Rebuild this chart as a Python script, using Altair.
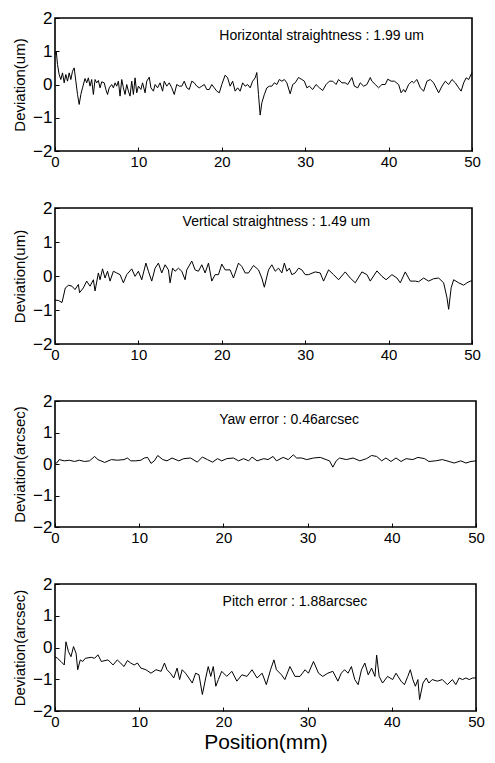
import altair as alt
import pandas as pd

# ---------------- data ----------------
h_x = [0, 0.15, 0.3, 0.5, 0.7, 0.9, 1.1, 1.3, 1.5, 1.7, 1.9, 2.1, 2.3, 2.5, 2.7, 2.9, 3.1, 3.3, 3.6, 3.8,
       4.0, 4.2, 4.4, 4.6, 4.8, 5.0, 5.2, 5.4, 5.6, 5.9, 6.1, 6.3, 6.5, 6.8, 7.0, 7.2, 7.4, 7.6, 7.8, 8.0,
       8.2, 8.4, 8.6, 8.8, 9.0, 9.2, 9.4, 9.6, 9.8, 10.0, 10.3, 10.5, 10.8, 11.0, 11.3, 11.5, 11.8, 12.0, 12.3, 12.6,
       12.9, 13.1, 13.4, 13.7, 14.0, 14.3, 14.6, 14.9, 15.2, 15.5, 15.8, 16.1, 16.4, 16.7, 17.0, 17.3, 17.6, 17.9, 18.2, 18.5,
       18.8, 19.1, 19.4, 19.7, 20.0, 20.4, 20.7, 21.0, 21.3, 21.6, 21.9, 22.2, 22.5, 22.8, 23.1, 23.4, 23.7, 24.0, 24.2, 24.4,
       24.6, 24.8, 25.1, 25.4, 25.7, 26.0, 26.3, 26.6, 26.9, 27.2, 27.5, 27.8, 28.2, 28.5, 28.8, 29.2, 29.6, 29.9, 30.2, 30.5,
       30.9, 31.3, 31.7, 32.1, 32.5, 32.9, 33.3, 33.7, 34.0, 34.4, 34.8, 35.1, 35.6, 35.9, 36.3, 36.6, 37.0, 37.4, 37.8, 38.0,
       38.4, 38.8, 39.2, 39.6, 39.9, 40.3, 40.7, 41.2, 41.5, 41.8, 42.0, 42.4, 42.8, 43.0, 43.4, 43.8, 44.2, 44.6, 45.0, 45.4,
       46.0, 46.4, 46.8, 47.2, 47.6, 48.0, 48.4, 48.7, 49.0, 49.3, 49.6, 50.0]
h_y = [0.9, 1.0, 0.6, 0.3, 0.15, 0.35, 0.05, 0.3, 0.1, 0.35, 0.15, 0.4, 0.5, 0.1, -0.3, -0.6, -0.3, -0.1, 0.18, 0.05,
       0.2, -0.05, 0.15, -0.3, 0.15, 0.05, 0.12, -0.1, 0.08, 0.05, -0.15, -0.3, -0.1, 0.0, -0.1, 0.05, -0.05, 0.1, -0.35, 0.15,
       -0.1, -0.3, 0.0, -0.2, -0.35, 0.1, -0.3, 0.2, -0.25, -0.05, -0.15, 0.05, -0.25, 0.1, 0.22, -0.1, -0.2, 0.0, -0.1, 0.05,
       -0.2, 0.1, -0.05, 0.05, -0.1, -0.3, 0.0, -0.05, -0.05, 0.1, -0.1, -0.15, 0.1, 0.05, -0.05, -0.1, -0.05, 0.0, -0.15, -0.15,
       0.0, -0.1, -0.2, -0.25, 0.0, 0.28, 0.2, -0.05, 0.1, -0.2, -0.1, -0.2, 0.05, -0.05, 0.0, -0.1, 0.1, 0.2, 0.36, -0.3,
       -0.92, -0.55, -0.3, -0.1, -0.05, -0.05, 0.05, 0.0, 0.15, 0.1, 0.15, 0.05, -0.28, 0.0, 0.05, 0.21, 0.15, 0.1, -0.1, -0.05,
       -0.15, 0.0, -0.1, -0.18, 0.0, 0.1, 0.1, 0.0, 0.15, 0.05, 0.05, 0.0, 0.21, -0.05, -0.1, 0.05, -0.05, 0.0, 0.21, 0.1,
       0.0, -0.1, 0.0, 0.0, 0.16, 0.1, 0.1, 0.0, -0.25, -0.15, -0.23, 0.0, 0.1, 0.05, 0.15, -0.1, -0.2, 0.1, 0.15, 0.05,
       -0.25, -0.05, 0.1, 0.0, 0.15, 0.05, -0.1, -0.2, 0.05, 0.2, 0.15, 0.36]

v_x = [0, 0.4, 0.84, 1.24, 1.64, 2.04, 2.4, 2.8, 2.95, 3.4, 3.8, 4.2, 4.6, 4.8, 5.2, 5.4, 5.7, 6.0, 6.3, 6.6,
       7.0, 7.4, 7.8, 8.2, 8.6, 9.2, 9.6, 10.0, 10.4, 10.9, 11.2, 11.6, 12.0, 12.4, 12.8, 13.2, 13.6, 13.8, 14.1, 14.4,
       14.8, 15.2, 15.6, 15.8, 16.4, 16.8, 17.2, 17.6, 18.0, 18.4, 18.8, 19.2, 19.6, 20.0, 20.4, 21.0, 21.4, 22.0, 22.4, 22.8,
       23.2, 23.8, 24.4, 24.8, 25.1, 25.6, 26.0, 26.4, 26.8, 27.2, 27.5, 27.8, 28.1, 28.4, 28.8, 29.2, 29.6, 30.0, 30.4, 31.2,
       31.8, 32.2, 32.8, 33.4, 34.0, 34.8, 35.4, 36.0, 36.8, 37.4, 37.8, 38.6, 39.2, 39.7, 40.4, 41.0, 41.4, 42.0, 42.6, 43.2,
       43.6, 44.2, 44.8, 45.4, 46.0, 46.6, 47.0, 47.2, 47.5, 47.8, 48.4, 49.0, 49.4, 49.8, 50.0]
v_y = [-0.71, -0.72, -0.78, -0.35, -0.27, -0.30, -0.40, -0.25, -0.49, -0.35, -0.15, -0.30, -0.11, -0.44, 0.09, -0.11, 0.21, -0.06, 0.14, -0.15,
       0.14, 0.09, 0.04, -0.20, 0.04, 0.21, -0.01, 0.14, -0.11, 0.38, 0.14, -0.15, 0.23, 0.38, 0.09, 0.33, 0.18, -0.20, 0.23, 0.14,
       0.23, 0.14, -0.11, 0.18, 0.44, 0.18, 0.14, 0.33, 0.09, 0.38, -0.15, 0.04, 0.04, 0.35, 0.18, 0.18, -0.06, 0.38, 0.28, 0.09,
       0.09, 0.31, 0.18, -0.06, -0.33, 0.18, 0.33, 0.14, 0.23, 0.09, 0.38, 0.14, 0.23, 0.04, 0.09, 0.23, 0.18, 0.04, 0.04, 0.12,
       0.09, -0.15, 0.18, 0.04, -0.11, 0.12, -0.06, -0.20, 0.12, 0.04, -0.15, 0.15, -0.01, -0.11, 0.04, -0.06, -0.20, 0.12, -0.15, -0.15,
       -0.17, -0.06, -0.15, -0.08, -0.06, -0.20, -0.64, -0.98, -0.35, -0.11, -0.20, -0.27, -0.20, -0.15, -0.15]

yaw_x = [0, 0.2, 0.5, 1.1, 1.7, 2.3, 2.9, 3.5, 4.1, 4.7, 5.1, 5.9, 6.7, 7.4, 8.2, 8.6, 9.0, 9.6, 10.2, 10.6,
         11.0, 11.4, 11.8, 12.2, 12.8, 13.3, 13.9, 14.7, 15.3, 16.1, 16.9, 17.5, 18.1, 18.7, 19.3, 19.8, 20.4, 21.2, 21.8, 22.4,
         23.0, 23.4, 24.0, 24.8, 25.3, 25.9, 26.3, 27.1, 27.7, 28.3, 28.7, 29.3, 29.9, 30.7, 31.5, 32.2, 32.6, 33.0, 33.4, 33.8,
         34.6, 35.4, 36.2, 37.0, 37.6, 38.2, 38.8, 39.3, 39.9, 40.5, 41.1, 41.7, 42.5, 43.1, 43.9, 44.4, 45.2, 46.0, 46.8, 47.4,
         48.2, 48.8, 49.4, 50.0]
yaw_y = [0.03, 0.03, 0.14, 0.10, 0.12, 0.08, 0.12, 0.08, 0.10, 0.24, 0.14, 0.05, 0.14, 0.12, 0.14, 0.19, 0.10, 0.10, 0.12, 0.19,
         0.21, 0.02, 0.10, 0.27, 0.14, 0.10, 0.19, 0.10, 0.17, 0.19, 0.06, 0.22, 0.14, 0.06, 0.17, 0.10, 0.17, 0.19, 0.10, 0.17,
         0.10, 0.22, 0.10, 0.17, 0.14, 0.24, 0.10, 0.21, 0.14, 0.29, 0.19, 0.19, 0.14, 0.19, 0.21, 0.14, 0.10, -0.10, 0.10, 0.19,
         0.14, 0.19, 0.10, 0.17, 0.27, 0.24, 0.10, 0.19, 0.08, 0.19, 0.08, 0.17, 0.14, 0.21, 0.17, 0.08, 0.10, 0.14, 0.08, 0.03,
         0.10, 0.03, 0.08, 0.10]

p_x = [0, 0.3, 0.7, 1.1, 1.3, 1.6, 1.9, 2.2, 2.5, 2.7, 3.0, 3.3, 3.6, 4.3, 4.7, 5.1, 5.5, 6.3, 6.9, 7.4,
       8.2, 8.6, 9.0, 9.4, 9.8, 10.2, 10.8, 11.4, 12.0, 12.6, 13.0, 13.3, 13.7, 14.1, 14.5, 14.8, 15.1, 15.5, 15.9, 16.3,
       16.7, 17.1, 17.5, 17.9, 18.2, 18.5, 18.8, 19.1, 19.4, 19.8, 20.4, 21.0, 21.6, 22.2, 22.8, 23.4, 24.0, 24.6, 25.1, 25.6,
       26.0, 26.3, 26.9, 27.3, 27.9, 28.5, 29.1, 29.7, 30.1, 30.7, 31.3, 31.8, 32.4, 33.0, 33.6, 34.0, 34.4, 34.8, 35.2, 35.6,
       36.0, 36.4, 36.8, 37.2, 37.6, 38.0, 38.2, 38.5, 38.9, 39.5, 40.1, 40.5, 41.1, 41.5, 41.9, 42.2, 42.5, 42.8, 43.1, 43.3,
       43.7, 44.1, 44.4, 44.8, 45.4, 46.0, 46.6, 47.2, 47.6, 48.0, 48.4, 48.8, 49.2, 49.6, 50.0]
p_y = [-0.29, -0.34, -0.44, -0.55, 0.18, -0.13, -0.29, 0.03, -0.18, -0.70, -0.39, -0.44, -0.34, -0.31, -0.34, -0.23, -0.44, -0.39, -0.55, -0.39,
       -0.60, -0.41, -0.49, -0.55, -0.49, -0.65, -0.70, -0.81, -0.70, -0.75, -0.49, -0.70, -0.81, -0.96, -0.65, -1.01, -0.70, -0.81, -0.96, -1.12,
       -0.81, -0.86, -1.48, -0.96, -0.60, -0.91, -0.60, -1.22, -1.01, -0.75, -0.91, -0.75, -1.06, -0.86, -0.91, -0.70, -0.96, -0.81, -1.17, -0.70,
       -0.39, -0.70, -0.86, -1.01, -0.60, -0.91, -0.91, -0.70, -0.81, -0.44, -0.81, -0.91, -0.81, -0.75, -1.06, -0.81, -0.70, -0.81, -0.60, -1.01,
       -1.17, -0.70, -0.49, -0.86, -0.65, -0.91, -0.24, -0.91, -1.12, -0.91, -1.01, -0.81, -1.06, -1.17, -0.91, -0.70, -1.01, -1.22, -1.01, -1.64,
       -1.12, -0.96, -1.12, -1.01, -1.06, -1.01, -1.17, -1.01, -1.17, -0.96, -1.01, -0.96, -1.01, -0.96, -0.96]

x_ticks = [0, 10, 20, 30, 40, 50]
y_ticks = [-2, -1, 0, 1, 2]

labels = ["Horizontal straightness : 1.99 um", "Vertical straightness : 1.49 um",
          "Yaw error : 0.46arcsec", "Pitch error : 1.88arcsec"]
label_x = [19.7, 15.3, 19.5, 19.9]
label_y = [1.45, 1.58, 1.4, 1.42]
y_titles = ["Deviation(um)", "Deviation(um)", "Deviation(arcsec)", "Deviation(arcsec)"]
x_title = "Position(mm)"

FONT = "Liberation Sans"


def panel(xs, ys, ytitle, label, lx, ly, w, h, show_xtitle):
    df = pd.DataFrame({"x": xs, "y": ys})
    xscale = alt.Scale(domain=[0, 50], nice=False, zero=False)
    yscale = alt.Scale(domain=[-2, 2], nice=False)
    xaxis = alt.Axis(values=x_ticks, offset=-4, tickSize=4, domain=False, grid=False,
                     labelPadding=3, labelFlush=False, labelOverlap=False, labelFontSize=15,
                     title=x_title if show_xtitle else None, titleFontSize=21,
                     titleFontWeight="normal", titlePadding=2)
    yaxis = alt.Axis(values=y_ticks, offset=-4, tickSize=4, domain=False, grid=False,
                     labelPadding=3, labelOverlap=False, labelFontSize=17, title=ytitle,
                     titleFontSize=15, titleFontWeight="normal", titlePadding=5)
    line = alt.Chart(df).mark_line(color="black", strokeWidth=1).encode(
        x=alt.X("x:Q", scale=xscale, axis=xaxis),
        y=alt.Y("y:Q", scale=yscale, axis=yaxis),
    )
    tdf = pd.DataFrame({"t": [label], "lx": [lx], "ly": [ly]})
    txt = alt.Chart(tdf).mark_text(
        align="left", baseline="middle", fontSize=14, font=FONT, color="black"
    ).encode(x=alt.X("lx:Q", scale=xscale, axis=xaxis),
             y=alt.Y("ly:Q", scale=yscale, axis=yaxis), text="t:N")
    return alt.layer(line, txt).properties(width=w, height=h)


series = [(h_x, h_y), (v_x, v_y), (yaw_x, yaw_y), (p_x, p_y)]
widths = [417, 417, 421, 421]
heights = [133, 136, 126, 127]

panels = [panel(series[i][0], series[i][1], y_titles[i], labels[i], label_x[i], label_y[i],
                widths[i], heights[i], i == 3) for i in range(4)]

chart = alt.vconcat(*panels, spacing=57, bounds="flush").properties(
    padding={"top": 0, "left": 3, "right": 0, "bottom": 0}
).configure_view(stroke="black", strokeWidth=1.6).configure_axis(
    labelFont=FONT, titleFont=FONT, labelColor="black", titleColor="black", tickColor="black",
    labelOverlap=False
)

chart.save("out.html", embed_options={"renderer": "svg", "actions": False})
